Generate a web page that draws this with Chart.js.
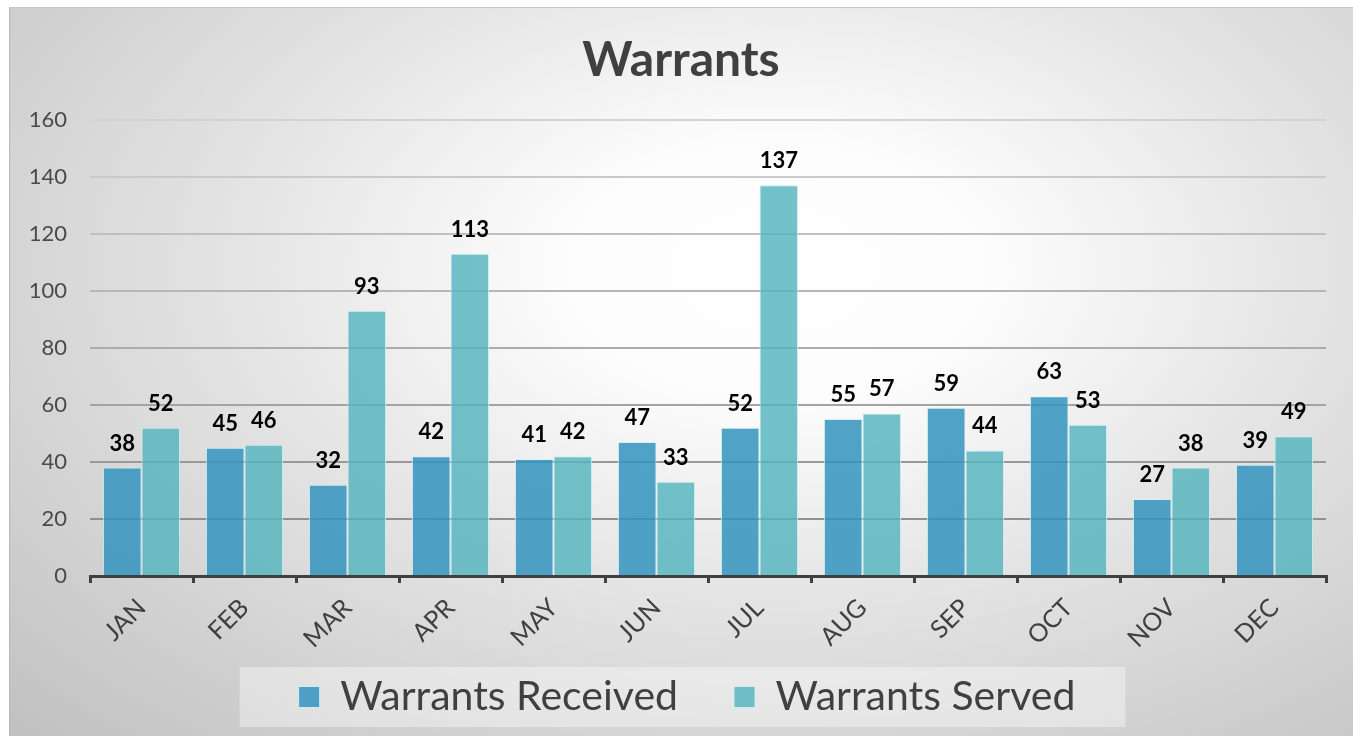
<!DOCTYPE html>
<html>
<head>
  <script src="https://cdn.jsdelivr.net/npm/chart.js"></script>
  <style>
    html, body { margin: 0; padding: 0; background: #fff; overflow: hidden; }
    .frame {
      position: absolute; left: 9px; top: 7px; width: 1344px; height: 729px;
      border-left: 1px solid #b8b8b8; border-top: 1px solid #c8c8c8;
      background: radial-gradient(ellipse farthest-corner at 57% 36%, #ffffff 0%, #fcfcfc 20%, #e4e4e4 50%, #c0c0c0 100%);
    }
    canvas { display: block; }
  </style>
</head>
<body>
  <div class="frame">
    <canvas id="warrantsChart" width="1343" height="728"></canvas>
  </div>
<script>
  // chart data
  var months = ['JAN', 'FEB', 'MAR', 'APR', 'MAY', 'JUN', 'JUL', 'AUG', 'SEP', 'OCT', 'NOV', 'DEC'];
  var received = [38, 45, 32, 42, 41, 47, 52, 55, 59, 63, 27, 39];
  var served = [52, 46, 93, 113, 42, 33, 137, 57, 44, 53, 38, 49];
  var yTicks = [0, 20, 40, 60, 80, 100, 120, 140, 160];

  var FONT = 'Lato, "Open Sans", sans-serif';
  var LEGEND_GAP = 56;     // space between legend items
  var LEGEND_MID = 689;    // vertical centre of legend text (canvas px)

  // value labels above each bar
  var barLabels = {
    id: 'barLabels',
    afterDatasetsDraw: function(chart) {
      var ctx = chart.ctx;
      ctx.save();
      ctx.font = 'bold 22px ' + FONT;
      ctx.fillStyle = '#000';
      ctx.textAlign = 'center';
      ctx.textBaseline = 'alphabetic';
      chart.data.datasets.forEach(function(ds, i) {
        chart.getDatasetMeta(i).data.forEach(function(bar, j) {
          ctx.fillText(ds.data[j], bar.x, bar.y - 17);
        });
      });
      ctx.restore();
    }
  };

  // move title/legend into place and draw the light box behind the legend
  var legendBox = {
    id: 'legendBox',
    afterLayout: function(chart) {
      var lg = chart.legend;
      lg.left += 19;
      lg.right += 19;
      lg.top = LEGEND_MID - LEGEND_GAP - 20.5;
      lg.bottom = chart.height;
      chart.titleBlock.left += 13;
      chart.titleBlock.right += 13;
    },
    beforeDraw: function(chart) {
      var hb = chart.legend.legendHitBoxes;
      if (!hb || !hb.length) return;
      var first = hb[0], last = hb[hb.length - 1];
      var ctx = chart.ctx;
      ctx.save();
      ctx.fillStyle = 'rgba(255,255,255,0.38)';
      ctx.fillRect(first.left - 59, LEGEND_MID - 30, (last.left + last.width + 50) - (first.left - 59), 60);
      ctx.restore();
    }
  };

  var ctx = document.getElementById('warrantsChart').getContext('2d');

  var warrantsChart = new Chart(ctx, {
    type: 'bar',
    data: {
      labels: months,
      datasets: [
        {
          label: 'Warrants Received',
          data: received,
          backgroundColor: 'rgba(50,148,190,0.85)',
          borderColor: 'rgba(215,240,245,0.9)',
          borderWidth: 1,
          categoryPercentage: 0.75,
          barPercentage: 1.0,
        },
        {
          label: 'Warrants Served',
          data: served,
          backgroundColor: 'rgba(84,180,190,0.82)',
          borderColor: 'rgba(215,240,245,0.9)',
          borderWidth: 1,
          categoryPercentage: 0.75,
          barPercentage: 1.0,
        },
      ],
    },
    options: {
      responsive: false,
      animation: false,
      layout: { padding: { top: 24, right: 27, bottom: 0, left: 0 } },
      scales: {
        x: {
          afterFit: function(s) { s.height = 100; },
          grid: {
            drawOnChartArea: false,
            drawTicks: true,
            tickLength: 7,
            color: '#404040',
            lineWidth: 3,
          },
          border: { display: true, color: '#404040', width: 3 },
          ticks: {
            color: '#404040',
            font: { family: FONT, size: 25 },
            minRotation: 45,
            maxRotation: 45,
            padding: 10,
          },
        },
        y: {
          min: 0,
          max: 160,
          afterFit: function(s) { s.width = 80; },
          afterBuildTicks: function(s) { s.ticks = yTicks.map(function(v) { return { value: v }; }); },
          grid: {
            drawTicks: false,
            lineWidth: 2,
            color: function(c) {
              var g = Math.round(0x86 + (c.tick.value / 160) * 0x4c);
              return 'rgb(' + g + ',' + g + ',' + g + ')';
            },
          },
          border: { display: false },
          ticks: {
            color: '#4a4a4a',
            font: { family: FONT, size: 22 },
            padding: 23,
          },
        },
      },
      plugins: {
        title: {
          display: true,
          text: 'Warrants',
          color: '#404040',
          font: { family: FONT, size: 48, weight: 'bold' },
          padding: { top: 0, bottom: 30 },
        },
        legend: {
          display: true,
          position: 'bottom',
          maxHeight: 60,
          labels: {
            color: '#404040',
            font: { family: FONT, size: 41 },
            boxWidth: 21,
            boxHeight: 21,
            padding: LEGEND_GAP,
          },
        },
        tooltip: { enabled: false },
      },
    },
    plugins: [barLabels, legendBox],
  });
</script>
</body>
</html>
